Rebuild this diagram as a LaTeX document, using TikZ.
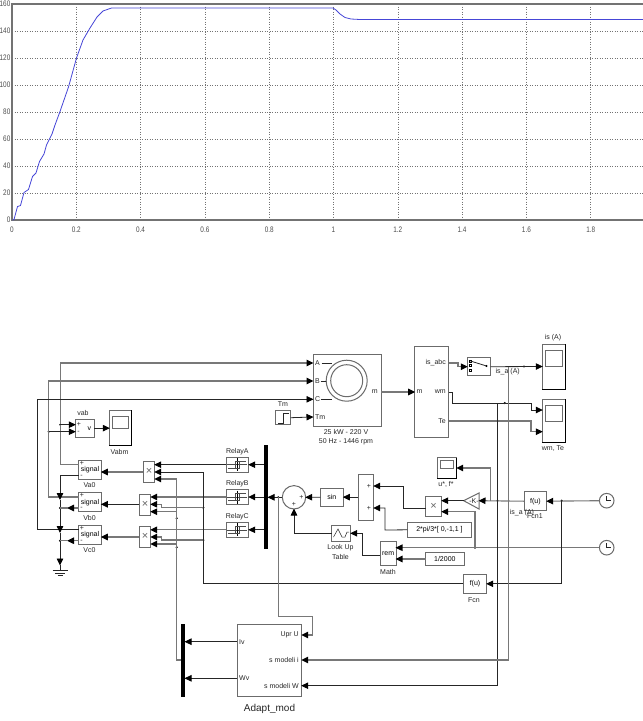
\documentclass[tikz,border=0pt]{standalone}
\usepackage{fontspec}
\setmainfont{Liberation Sans}
\usetikzlibrary{arrows.meta,calc,positioning}

\definecolor{wiregray}{gray}{0.47}
\definecolor{boxgray}{gray}{0.42}
\definecolor{gridgray}{gray}{0.45}
\definecolor{speedblue}{RGB}{70,70,215}

\tikzset{
    simblock/.style={draw=boxgray, fill=white, line width=1pt, inner sep=0pt, outer sep=0pt, font=\fontsize{7}{8}\selectfont},
    busbar/.style={fill=black, inner sep=0pt, outer sep=0pt},
    wire/.style={draw=wiregray, line width=1.1pt},
    darkwire/.style={draw=black!85, line width=0.8pt},
    head/.style={-{Triangle[length=7pt,width=6.5pt,black]}, shorten >=-0.5pt},
    blocklabel/.style={font=\fontsize{7}{8}\selectfont, inner sep=0pt, text=black!85},
    ticklabel/.style={font=\fontsize{8}{9}\selectfont, inner sep=0pt, transform shape, xscale=0.8, text=black!70},
    timessign/.style={font=\fontsize{11}{11}\selectfont, inner sep=0pt, text=black!60},
    joindot/.style={circle, fill=black, inner sep=0pt, minimum size=2.4pt},
    griddot/.style={draw=gridgray, line width=0.5pt, dash pattern=on 1pt off 1.5pt},
    plotaxis/.style={draw=black!55, line width=1.3pt},
    speedcurve/.style={draw=speedblue, line width=0.8pt}
}

% name, x1, y1, x2, y2, text
\newcommand{\blockat}[6]{\node[simblock, minimum width={((#4)-(#2))*1pt}, minimum height={((#5)-(#3))*1pt}] (#1) at ({((#2)+(#4))/2},{((#3)+(#5))/2}) {#6};}
% name, x1, y1, x2, y2, screen height, screen inset
\newcommand{\scopeat}[7]{
    \node[simblock, minimum width={(#4-#2)*1pt}, minimum height={(#5-#3)*1pt}] (#1) at ({(#2+#4)/2},{(#3+#5)/2}) {};
    \draw[black, line width=1pt] (#1.north east) to (#1.south east) to (#1.south west);
    \node[simblock, minimum width={(#4-#2-6)*1pt}, minimum height={#6*1pt}, anchor=north] (#1screen) at ({(#2+#4)/2},{#3+#7}) {};
}

\begin{document}
\begin{tikzpicture}[x=1pt,y=-1pt]
    \useasboundingbox (0,0) rectangle (643,721);

    % speed plot
    \foreach \i in {1,...,9}
    {
    \draw[griddot] ({12+\i*64.3},4) to ({12+\i*64.3},220);
    }
    \foreach \i in {1,...,7}
    {
    \draw[griddot] (12,{220-\i*27}) to (643,{220-\i*27});
    }
    \draw[plotaxis] (643,4) to (12,4) to (12,220) to (643,220);
    \foreach \lab [count=\i from 0] in {0,20,40,60,80,100,120,140,160}
    {
    \node[ticklabel, anchor=east] (ytick\i) at (10.5,{220-\i*27}) {\lab};
    }
    \foreach \lab [count=\i from 0] in {0,0.2,0.4,0.6,0.8,1,1.2,1.4,1.6,1.8}
    {
    \node[ticklabel] (xtick\i) at ({12+\i*64.3},229.5) {\lab};
    }
    \draw[speedcurve] (12.5,220) to (14,219.5) to (17.5,206.5) to (20.5,205.5) to (24,192.5) to (28.5,189.5) to (32.5,176.5) to (36,173) to (39.5,161.5) to (44,154) to (46.5,145) to (52,134) to (55,125) to (60,111.5) to (68.5,87) to (76.5,58) to (83,40) to (90,28) to (97,17) to (103,11) to (111.5,8) to (333,8) to (336,10) to (340,14) to (345,17.5) to (351,19) to (360,19.5) to (643,19.5);

    % machine and measurement
    \blockat{motor}{313}{354}{381}{426}{}
    \node[simblock, circle, minimum size=41pt] (statorring) at (346.7,380.7) {};
    \node[simblock, circle, minimum size=32pt] (rotorring) at (346.7,380.7) {};
    \blockat{meas}{414.7}{346}{448.7}{437.7}{}
    \blockat{selector}{467.3}{357.7}{490.7}{375.7}{}
    \blockat{stepTm}{275.3}{410.7}{290.7}{424.7}{}
    \draw[darkwire] (278,423) to (283,423) to (283,413) to (289,413);
    \coordinate (motA) at (313,363);
    \coordinate (motB) at (313,381);
    \coordinate (motC) at (313,399.3);
    \coordinate (motTm) at (313,417);
    \foreach \nm/\lab/\yy in {A/A/363,B/B/381,C/C/399.3,Tm/Tm/417}
    {
    \node[blocklabel, anchor=west] (lab\nm) at (315,\yy) {\lab};
    }
    \draw[darkwire] (321.5,363) to (331.5,363);
    \draw[darkwire] (320.5,381) to (326,381);
    \draw[darkwire] (320.5,399.3) to (332,399.3);
    \node[blocklabel, anchor=east] (labM) at (378,392) {m};
    \node[blocklabel] (labPower) at (346,432) {25 kW - 220 V};
    \node[blocklabel] (labFreq) at (346,441.5) {50 Hz - 1446 rpm};
    \node[blocklabel] (labTm) at (283,404) {Tm};
    \coordinate (measIs) at (448.7,363);
    \coordinate (measWm) at (448.7,392);
    \coordinate (measTe) at (448.7,421);
    \node[blocklabel, anchor=east] (labIs) at (446,363) {is\_abc};
    \node[blocklabel, anchor=east] (labWm) at (446,392) {wm};
    \node[blocklabel, anchor=east] (labTe) at (446,421) {Te};
    \node[blocklabel, anchor=west] (labMm) at (416.5,392) {m};
    \foreach \yy in {361,365.3,370}
    {
    \draw[black, line width=0.6pt] (469.5,{\yy-1}) rectangle (471.5,{\yy+1});
    }
    \draw[darkwire] (470.5,361) to (486.5,366);
    \node[joindot] (selpin) at (486.5,366) {};
    \node[blocklabel] (labIsa) at (507.7,371.5) {is\_a (A)};

    % scopes
    \scopeat{scopeIs}{542.3}{344}{565.7}{389}{16}{6.3}
    \scopeat{scopeWm}{542.3}{399.3}{565.7}{442.7}{16.3}{5.7}
    \scopeat{scopeAb}{109.3}{410.3}{131.7}{445.7}{12.7}{5.7}
    \scopeat{scopeUf}{437.3}{457.7}{456.7}{478.3}{7.6}{3}
    \node[blocklabel] (labScopeIs) at (553,338) {is (A)};
    \node[blocklabel] (labScopeWm) at (553,449) {wm, Te};
    \node[blocklabel] (labScopeAb) at (119.5,451.5) {Vabm};
    \node[blocklabel] (labScopeUf) at (446,484) {u*, f*};
    \coordinate (scopeWm1) at (542.3,410);
    \coordinate (scopeWm2) at (542.3,431.7);

    % voltage measurement and signal blocks
    \blockat{vmeas}{75.3}{419.3}{94.3}{437}{\hspace*{9pt}v}
    \node[blocklabel] (labVplus) at (79,424) {+};
    \node[blocklabel] (labVminus) at (78.5,432) {-};
    \node[blocklabel] (labVab) at (83,413) {vab};
    \foreach \nm/\yy in {a/469.8,b/502.2,c/534.8}
    {
    \blockat{sig\nm}{78.7}{\yy-9.5}{101.3}{\yy+9.5}{signal}
    \node[blocklabel] (plus\nm) at (82,\yy-6.5) {+};
    \node[blocklabel] (minus\nm) at (81.5,\yy+6.5) {-};
    \node[blocklabel] (lab\nm) at (89.5,\yy+15.5) {V\nm 0};
    }

    % relays and multipliers
    \foreach \nm/\yy in {A/464.7,B/497,C/529.8}
    {
    \blockat{relay\nm}{226}{\yy-7.3}{248.7}{\yy+7.3}{}
    \node[blocklabel] (labrelay\nm) at (237.3,\yy-13.3) {Relay\nm};
    \begin{scope}[shift={(relay\nm.center)}]
    \draw[black!70, line width=0.5pt] (-10,0) to (10,0);
    \draw[black, line width=0.6pt] (0,-6.5) to (0,6.5);
    \draw[black!70, line width=0.6pt] (-9,3.5) to (2,3.5) to (2,-3.5) to (9,-3.5);
    \draw[black!70, line width=0.6pt] (-2,3.5) to (-2,-3.5) to (2,-3.5);
    \end{scope}
    }
    \blockat{prodA}{143.3}{461.3}{154.7}{482.3}{}
    \blockat{prodB}{139.3}{494.7}{150.7}{515}{}
    \blockat{prodC}{139.3}{526.3}{150.7}{547.3}{}
    \node[busbar, minimum width=4.4pt, minimum height=103.4pt] (busRelay) at (265.8,497) {};

    % reference chain
    \node[simblock, circle, minimum size=23.4pt] (sumErr) at (294,497.3) {};
    \node[blocklabel] (labErrA) at (301.5,497.3) {+};
    \node[blocklabel] (labErrB) at (294,504) {+};
    \blockat{sinblk}{320.3}{488.3}{343.3}{506}{sin}
    \blockat{sumPhase}{358.3}{474}{373.7}{520.3}{}
    \node[blocklabel] (labPhaseA) at (369,486) {+};
    \node[blocklabel] (labPhaseB) at (369,508) {+};
    \blockat{prodF}{425.7}{496.3}{441.7}{516}{}
    \foreach \nm in {prodA,prodB,prodC,prodF}
    {
    \node[timessign] (sign\nm) at (\nm.center) {×};
    }
    \coordinate (prodFin1) at (441.7,500.7);
    \coordinate (prodFin2) at (441.7,511.7);
    \coordinate (prodFout) at (425.7,508.3);
    \blockat{phases}{407.3}{522.3}{471.7}{537.3}{2*pi/3*[ 0,-1,1 ]}
    \blockat{lookup}{331.7}{525.3}{350.7}{541.3}{}
    \draw[darkwire, line width=0.5pt] (333.5,537) to (338,529) to (342,537) to (345,537) to (347,532) to (349,532);
    \node[blocklabel] (labLookA) at (340.5,547.5) {Look Up};
    \node[blocklabel] (labLookB) at (340.5,557) {Table};
    \blockat{mathrem}{380.3}{541.3}{396}{565.7}{rem}
    \node[blocklabel] (labMath) at (388,571.5) {Math};
    \blockat{period}{425.7}{552.3}{464}{565.7}{1/2000}
    \coordinate (mathIn1) at (396,547.7);
    \coordinate (mathIn2) at (396,559);
    \coordinate (mathOut) at (380.3,555.7);
    \blockat{fcnOne}{524}{491.7}{546.7}{510.7}{f(u)}
    \node[blocklabel] (labFcnOne) at (535,516.5) {Fcn1};
    \node[blocklabel] (labIsaTwo) at (522,513) {is\_a (A)};
    \blockat{fcnTwo}{463.3}{574.3}{486.7}{593.3}{f(u)}
    \node[blocklabel] (labFcnTwo) at (474,600) {Fcn};
    \coordinate (gainTip) at (463.7,500.7);
    \coordinate (gainBack) at (479,500.7);
    \draw[simblock] (gainTip) to (479,493) to (479,509) to cycle;
    \node[blocklabel] (labGain) at (474,500.7) {-K-};

    % clocks
    \foreach \nm/\yy in {One/500.7,Two/547.7}
    {
    \node[simblock, circle, minimum size=14.6pt] (clock\nm) at (606.7,\yy) {};
    \draw[darkwire] (606.7,\yy) to (606.7,\yy-4.5);
    \draw[darkwire] (606.7,\yy) to (611,\yy);
    }

    % adaptive model
    \blockat{adapt}{237.3}{624}{301.7}{696.7}{}
    \node[busbar, minimum width=4.4pt, minimum height=72.7pt] (busAdapt) at (182.8,660.3) {};
    \coordinate (adaptIv) at (237.3,641.7);
    \coordinate (adaptWv) at (237.3,678.3);
    \coordinate (adaptU) at (301.7,635);
    \coordinate (adaptI) at (301.7,660);
    \coordinate (adaptW) at (301.7,685.7);
    \node[blocklabel, anchor=west] (labIv) at (239,641.7) {Iv};
    \node[blocklabel, anchor=west] (labWv) at (239,678.3) {Wv};
    \node[blocklabel, anchor=east] (labU) at (299,635) {Upr U};
    \node[blocklabel, anchor=east] (labI) at (299,660) {s modeli i};
    \node[blocklabel, anchor=east] (labW) at (299,685.7) {s modeli W};
    \node[blocklabel, font=\fontsize{10}{12}\selectfont] (labAdapt) at (269.5,709) {Adapt\_mod};

    % ground
    \coordinate (gndTop) at (60,570.5);
    \draw[darkwire] (52.5,570.5) to (67.5,570.5);
    \draw[darkwire] (55,573) to (65,573);
    \draw[darkwire] (57.5,575.5) to (62.5,575.5);

    % junctions
    \foreach \nm/\px/\py in {jVa/60.3/424.7,jVb/48.7/431.7,jNb/60/508,jNc/60/540.7,jRb/203.3/507.7,jRc/203.3/540,jGb/176.7/518.3,jGc/176.7/547.3,jErr/278.3/497.3,jIs/524/366.5,jWm/504.7/403,jFcn/561.7/500.7,jClk/475/547.7,jCross/497.5/500.7}
    {
    \node[joindot] (\nm) at (\px,\py) {};
    }

    % stator wires
    \coordinate (railA) at (60.3,363);
    \coordinate (railB) at (48.7,381);
    \coordinate (railC) at (37.7,399.3);
    \coordinate (inA) at (78.7,464.5);
    \coordinate (inB) at (78.7,497);
    \coordinate (inC) at (78.7,529.7);
    \draw[wire, head] (inA) -| (railA) to (motA);
    \draw[wire, head] (inB) -| (railB) to (motB);
    \draw[darkwire, head] (inC) -| (railC) to (motC);
    \draw[darkwire, head] (stepTm.east) to (motTm);
    \draw[darkwire, head] (jVa.center) to (vmeas.west |- jVa);
    \draw[darkwire, head] (jVb.center) to (vmeas.west |- jVb);
    \draw[darkwire, head] (vmeas.east) to (scopeAb.west |- vmeas.east);

    % neutral
    \coordinate (negA) at (78.7,475);
    \coordinate (negB) at (78.7,508);
    \coordinate (negC) at (78.7,540.7);
    \coordinate (tipA) at (60,499.5);
    \coordinate (tipB) at (60,532.5);
    \coordinate (tipC) at (60,565);
    \coordinate (arrB) at (67.5,508);
    \coordinate (arrC) at (67.5,540.7);
    \draw[darkwire, head] (negA) -| (tipA);
    \draw[darkwire, head] (tipA) to (tipB);
    \draw[darkwire, head] (tipB) to (tipC);
    \draw[darkwire] (tipC) to (gndTop);
    \draw[wire, head] (negB) to (arrB);
    \draw[wire] (arrB) to (jNb.center);
    \draw[wire, head] (negC) to (arrC);
    \draw[wire] (arrC) to (jNc.center);

    % relay wires
    \foreach \nm in {A,B,C}
    {
    \draw[darkwire, head] (busRelay.west |- relay\nm.east) to (relay\nm.east);
    }
    \coordinate (prodAin1) at (154.7,464.7);
    \coordinate (prodAin2) at (154.7,472);
    \coordinate (prodAin3) at (154.7,479);
    \coordinate (prodBin1) at (150.7,497);
    \coordinate (prodBin2) at (150.7,504.3);
    \coordinate (prodBin3) at (150.7,511.7);
    \coordinate (prodCin1) at (150.7,529.8);
    \coordinate (prodCin2) at (150.7,537);
    \coordinate (prodCin3) at (150.7,544);
    \draw[darkwire, head] (relayA.west) to (prodAin1);
    \draw[wire, head] (relayB.west) to (prodBin1);
    \draw[wire, head] (relayC.west) to (prodCin1);
    \draw[wire, head] (prodA.west |- prodAin2) to (siga.east |- prodAin2);
    \draw[darkwire, head] (prodB.west |- prodBin2) to (sigb.east |- prodBin2);
    \draw[wire, head] (prodC.west |- prodCin2) to (sigc.east |- prodCin2);

    % modulation wires
    \coordinate (railF) at (203.3,472);
    \coordinate (kneeB) at (161.7,507.7);
    \coordinate (kneeC) at (161.7,540);
    \draw[darkwire, head] (fcnTwo.west) -| (railF) to (prodAin2);
    \draw[wire, head] (jRb.center) to (kneeB) |- (prodBin2);
    \draw[wire, head] (jRc.center) to (kneeC) |- (prodCin2);
    \coordinate (railG) at (176.7,479);
    \coordinate (railGend) at (176.7,660);
    \coordinate (railGb) at (176.7,511.7);
    \coordinate (railGc) at (176.7,544);
    \draw[wire, head] (busAdapt.west |- railGend) to (railGend) to (railG) to (prodAin3);
    \draw[wire, head] (railGb) to (prodBin3);
    \draw[wire, head] (railGc) to (prodCin3);

    % error and reference wires
    \coordinate (kneeU) at (312.7,616.7);
    \draw[darkwire, head] (sumErr.west) to (busRelay.east |- sumErr.west);
    \draw[wire, head] (jErr.center) |- (kneeU) |- (adaptU);
    \draw[darkwire, head] (sinblk.west) to (sumErr.east);
    \draw[darkwire, head] (sumPhase.west |- sinblk.east) to (sinblk.east);
    \draw[darkwire, head] (lookup.west) -| (sumErr.south);
    \coordinate (phaseIn1) at (373.7,486);
    \coordinate (phaseIn2) at (373.7,508);
    \coordinate (kneeP1) at (403.3,508.3);
    \coordinate (kneeP2) at (385,530);
    \draw[darkwire, head] (prodFout) to (kneeP1) |- (phaseIn1);
    \draw[darkwire, head] (phases.west) to (kneeP2) |- (phaseIn2);
    \coordinate (kneeM) at (362.3,555.7);
    \draw[darkwire, head] (mathOut) to (kneeM) |- (lookup.east);
    \draw[wire, head] (period.west) to (mathIn2);
    \draw[wire, head] (clockTwo.west) to (mathIn1);
    \draw[wire, head] (jClk.center) |- (prodFin2);
    \draw[darkwire, head] (gainTip) to (prodFin1);
    \draw[wire, head] (fcnOne.west) to (gainBack);
    \coordinate (kneeUf) at (490.3,500.7);
    \draw[wire, head] (kneeUf) |- (scopeUf.east);
    \draw[wire, head] (clockOne.west) to (fcnOne.east);
    \draw[darkwire, head] (jFcn.center) |- (fcnTwo.east);

    % measurement wires
    \coordinate (kneeIs) at (458,363);
    \coordinate (kneeWm1) at (452.5,392);
    \coordinate (kneeWm2) at (531,403);
    \coordinate (kneeTe) at (531,421);
    \coordinate (railW) at (497.5,403);
    \coordinate (railI) at (508.7,366.5);
    \draw[wire, head] (motor.east |- labM) to (meas.west |- labM);
    \draw[wire, head] (measIs) to (kneeIs) |- (selector.west);
    \draw[darkwire, head] (selector.east) to (scopeIs.west);
    \draw[darkwire, head] (measWm) to (kneeWm1) |- (kneeWm2) |- (scopeWm1);
    \draw[wire, head] (measTe) to (kneeTe) |- (scopeWm2);
    \draw[darkwire, head] (railW) |- (adaptW);
    \draw[wire, head] (railI) |- (adaptI);
    \draw[darkwire, head] (adaptIv) to (busAdapt.east |- adaptIv);
    \draw[darkwire, head] (adaptWv) to (busAdapt.east |- adaptWv);
\end{tikzpicture}
\end{document}
